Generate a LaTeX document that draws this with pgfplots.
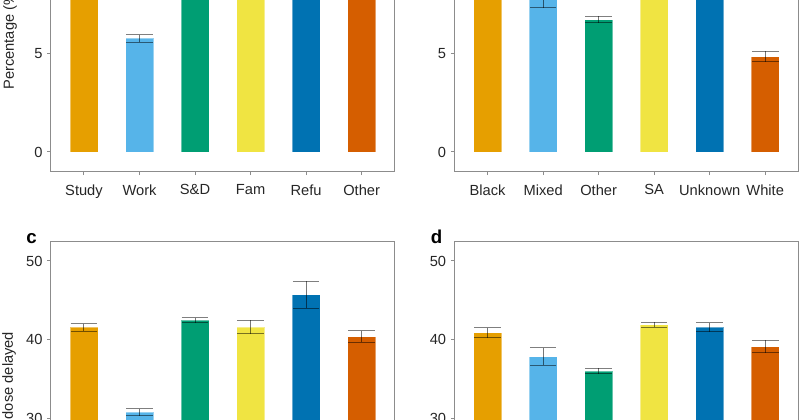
\documentclass[border=0pt]{standalone}
\usepackage{fontspec}
\setmainfont{Liberation Sans}
\usepackage{pgfplots}
\pgfplotsset{compat=1.18}

\definecolor{cOrange}{HTML}{E69F00}
\definecolor{cSky}{HTML}{56B4E9}
\definecolor{cGreen}{HTML}{009E73}
\definecolor{cYellow}{HTML}{F0E442}
\definecolor{cBlue}{HTML}{0072B2}
\definecolor{cVerm}{HTML}{D55E00}
\definecolor{frame}{gray}{0.55}

\pgfplotsset{
  panel/.style={
    scale only axis, width=258.2pt,
    xmin=-0.6, xmax=5.6, xtick={0,...,5},
    ybar, bar width=21pt, bar shift=0pt,
    axis line style={line width=0.75pt, color=frame},
    tick style={line width=0.75pt, color=frame},
    tick align=outside, major tick length=2.6pt, tick pos=left,
    ticklabel style={font=\fontsize{11}{13}\selectfont, text=black!85},
    xticklabel style={yshift=-3.5pt},
    label style={font=\fontsize{11}{13}\selectfont, text=black!85, inner sep=0pt},
    /pgf/number format/assume math mode=true,
    every axis plot/.append style={draw=white, draw opacity=0.4, line width=0.6pt},
    error bars/y dir=both, error bars/y explicit,
    error bars/error mark=|,
    error bars/error bar style={line width=0.75pt, black, opacity=0.5},
    error bars/error mark options={line width=0.75pt, black, opacity=0.5, mark size=10pt},
  },
  top/.style={panel, height=192.1pt, ymin=-1, ymax=12, ytick={0,5,10}, anchor=south west},
  bot/.style={panel, height=324.4pt, ymin=-2.5, ymax=52.45, ytick={0,10,...,50}, anchor=north west},
  b1/.style={fill=cOrange}, b2/.style={fill=cSky}, b3/.style={fill=cGreen},
  b4/.style={fill=cYellow}, b5/.style={fill=cBlue}, b6/.style={fill=cVerm},
}

\begin{document}
\begin{tikzpicture}
\useasboundingbox (0,0) rectangle (600pt,314.25pt);
\clip (0,0) rectangle (600pt,314.25pt);

% a: migration route
\begin{axis}[top, at={(38.0pt,185.5pt)},
  xticklabels={Study,Work,S\&D,Fam,Refu,Other},
  ylabel={Percentage (\%)},
  ylabel style={at={(axis description cs:-0.107,0.319)}, anchor=base west}]
\addplot[b1] coordinates {(0,10.6) +- (0,0.4)};
\addplot[b2] coordinates {(1,5.76) +- (0,0.2)};
\addplot[b3] coordinates {(2,9.3) +- (0,0.3)};
\addplot[b4] coordinates {(3,11.0) +- (0,0.5)};
\addplot[b5] coordinates {(4,10.0) +- (0,0.6)};
\addplot[b6] coordinates {(5,9.5) +- (0,0.4)};
\end{axis}

% b: ethnicity
\begin{axis}[top, at={(340.7pt,185.5pt)},
  xticklabels={Black,Mixed,Other,SA,Unknown,White}]
\addplot[b1] coordinates {(0,10.2) +- (0,0.4)};
\addplot[b2] coordinates {(1,8.0) +- (0,0.69)};
\addplot[b3] coordinates {(2,6.72) +- (0,0.17)};
\addplot[b4] coordinates {(3,9.8) +- (0,0.3)};
\addplot[b5] coordinates {(4,11.5) +- (0,0.4)};
\addplot[b6] coordinates {(5,4.84) +- (0,0.27)};
\end{axis}

% c
\begin{axis}[bot, at={(38.0pt,133.0pt)},
  xticklabels={Study,Work,S\&D,Fam,Refu,Other},
  ylabel={Days dose delayed},
  ylabel style={at={(axis description cs:-0.1095,0.792)}, anchor=base east}]
\addplot[b1] coordinates {(0,41.57) +- (0,0.47)};
\addplot[b2] coordinates {(1,30.77) +- (0,0.43)};
\addplot[b3] coordinates {(2,42.48) +- (0,0.32)};
\addplot[b4] coordinates {(3,41.61) +- (0,0.85)};
\addplot[b5] coordinates {(4,45.72) +- (0,1.73)};
\addplot[b6] coordinates {(5,40.40) +- (0,0.73)};
\end{axis}

% d
\begin{axis}[bot, at={(340.7pt,133.0pt)},
  xticklabels={Black,Mixed,Other,SA,Unknown,White}]
\addplot[b1] coordinates {(0,40.88) +- (0,0.63)};
\addplot[b2] coordinates {(1,37.85) +- (0,1.10)};
\addplot[b3] coordinates {(2,36.02) +- (0,0.38)};
\addplot[b4] coordinates {(3,41.90) +- (0,0.33)};
\addplot[b5] coordinates {(4,41.57) +- (0,0.55)};
\addplot[b6] coordinates {(5,39.13) +- (0,0.79)};
\end{axis}

\node[anchor=base west, inner sep=0pt, font=\fontsize{14}{16}\selectfont\bfseries] at (19.5pt,131.8pt) {c};
\node[anchor=base west, inner sep=0pt, font=\fontsize{14}{16}\selectfont\bfseries] at (323.0pt,131.8pt) {d};
\end{tikzpicture}
\end{document}
